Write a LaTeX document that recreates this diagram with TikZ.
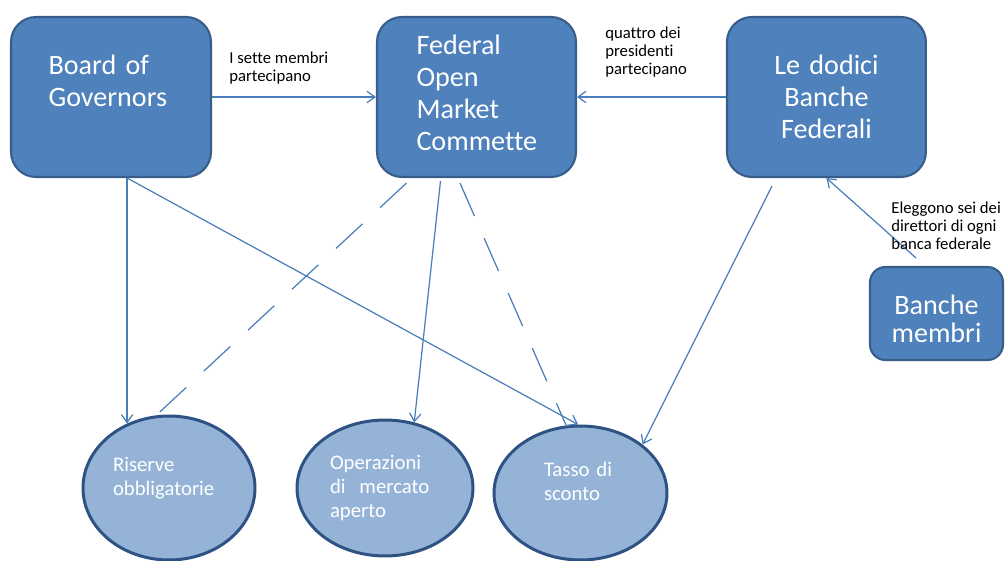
\documentclass[tikz,border=0pt]{standalone}
\usepackage{fontspec}
\setmainfont{Carlito}[Ligatures=NoCommon]
\usepackage{tikz}
\usetikzlibrary{calc,positioning}
\usetikzlibrary{arrows.meta,shapes.geometric}
\definecolor{boxblue}{HTML}{4F81BD}
\definecolor{boxedge}{HTML}{385D8A}
\definecolor{ovalfill}{HTML}{95B3D7}
\definecolor{ovaledge}{HTML}{2E5283}
\definecolor{linkblue}{HTML}{4A7EBB}
\newcommand{\boxfont}{\fontsize{16}{18.2}\selectfont}
\newcommand{\ovalfont}{\fontsize{11.8}{13.6}\selectfont}
\newcommand{\notefont}{\fontsize{9.5}{10.1}\selectfont}

\begin{document}
\begin{tikzpicture}[x=0.02cm,y=-0.02cm,
    ente/.style={draw=boxedge,line width=1.2pt,fill=boxblue,rounded corners=0.5cm,
      minimum width=3.98cm,minimum height=3.2cm,inner sep=0pt,text=white,font=\boxfont},
    strumento/.style={ellipse,draw=ovaledge,line width=1.7pt,fill=ovalfill,inner sep=0pt,
      text=white,font=\ovalfont,align=left},
    nota/.style={inner sep=0pt,align=left,font=\notefont,anchor=base west},
    freccia/.style={draw=linkblue,line width=0.7pt,-{Straight Barb[length=4.5pt,width=6.5pt]}},
    tratto/.style={draw=linkblue,line width=0.7pt,dash pattern=on 20.5pt off 13.7pt}]
    \useasboundingbox (0,0) rectangle (1005,561);

    \node[ente,minimum width=4cm,text width=2.5cm,align=left] (gov) at (111,97) {Board of\\Governors\\~};
    \node[ente,text width=2.4cm,align=left,text depth=2.1cm] (fomc) at (476.5,97) {Federal\\Open\\Market\\Commette};
    \node[ente,right of=fomc,node distance=7cm,text width=3cm,align=center] (dodici) {Le dodici\\Banche\\Federali};
    \node[ente,minimum width=2.66cm,minimum height=1.86cm,rounded corners=0.31cm,text width=2.4cm,
      align=center,text height=0.62cm,font=\fontsize{16}{15.9}\selectfont] (membri) at (936.5,313.5) {Banche\\membri};

    \node[strumento,minimum width=3.44cm,minimum height=2.88cm,text width=2.24cm] (riserve) at (169,488) {Riserve\\obbligatorie\\~};
    \node[strumento,minimum width=3.52cm,minimum height=2.72cm,text width=2.2cm] (mercato) at (385,488) {Operazioni\\di\ \ mercato\\aperto};
    \node[strumento,minimum width=3.46cm,minimum height=2.68cm,text width=1.46cm] (sconto) at (580.5,493) {Tasso di\\sconto\\~};

    \draw[freccia] (gov) -- (fomc);
    \draw[freccia] (dodici) -- (fomc);
    \draw[freccia] ($(membri.north)+(-20.5,-8)$) -- (dodici.south);
    \draw[freccia] (riserve.123 |- gov.south) -- (riserve.123);
    \draw[freccia] (riserve.123 |- gov.south) -- (sconto.92);
    \draw[tratto] ($(fomc.south)+(-70,5)$) -- (riserve.100);
    \draw[freccia] ($(fomc.south)+(-36,3)$) -- (mercato.66);
    \draw[tratto] ($(fomc.south)+(-16.5,5)$) -- (sconto.102);
    \draw[freccia] ($(dodici.south)+(-54.5,8)$) -- (sconto.38);

    % base sits on the last line
    \node[nota] (sette) at (229,81.5) {I sette membri\\partecipano};
    \node[nota] (quattro) at (605,74) {quattro dei\\presidenti\\partecipano};
    \node[nota] (eleggono) at (891,249) {Eleggono sei dei\\direttori di ogni\\banca federale};
  \end{tikzpicture}
\end{document}
